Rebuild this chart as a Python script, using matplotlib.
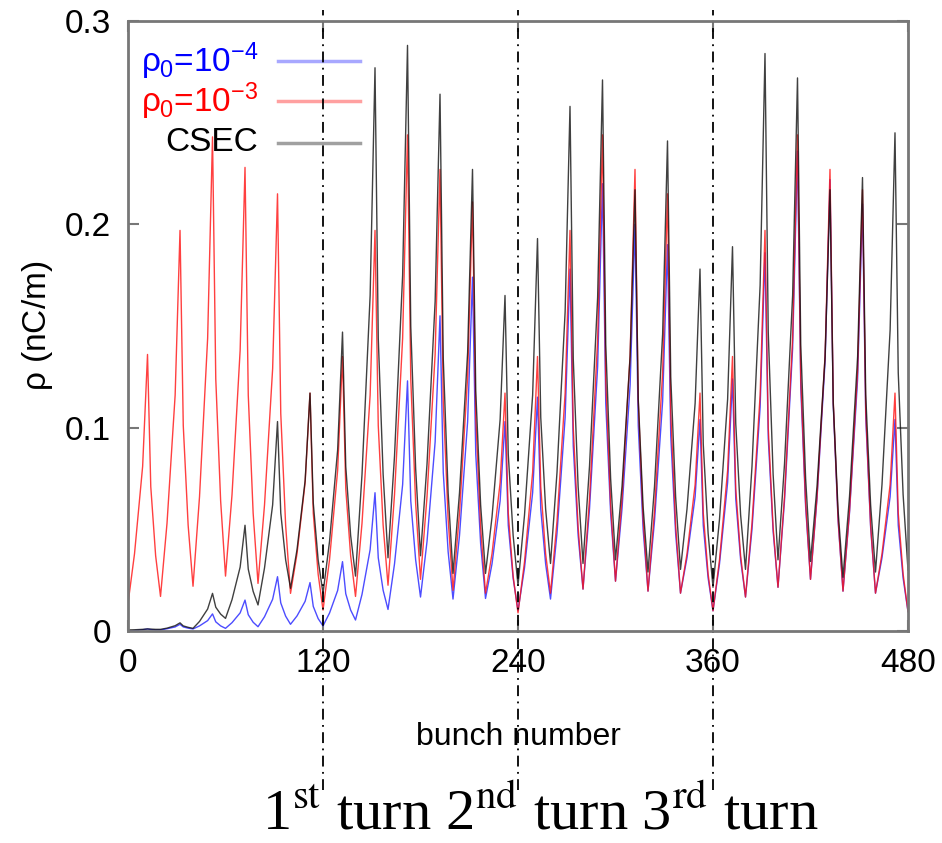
import matplotlib

matplotlib.use("Agg")
import matplotlib.pyplot as plt
from matplotlib.lines import Line2D

plt.rcParams["font.family"] = ["Liberation Sans", "DejaVu Sans"]
plt.rcParams["mathtext.fontset"] = "custom"
plt.rcParams["mathtext.rm"] = "Liberation Sans"
plt.rcParams["mathtext.it"] = "Liberation Sans"
plt.rcParams["mathtext.bf"] = "Liberation Sans:bold"

# bunch trains: 20 bunches per period, 24 periods (4 turns of 120 bunches)
period_starts = list(range(0, 480, 20))
# sample offsets inside a period: trough, rise, rise, peak, decay, decay
offsets = [0, 4, 9, 12, 14, 17]
last_bunch = 480

# values read per period: [trough, rise, rise, peak, decay, decay]
rho_1e4 = [
    [0.0, 0.0002, 0.0006, 0.001, 0.0007, 0.0005],
    [0.0005, 0.0011, 0.002, 0.0033, 0.0020, 0.0014],
    [0.001, 0.0025, 0.0051, 0.0084, 0.0045, 0.0025],
    [0.0013, 0.0041, 0.0089, 0.0152, 0.0080, 0.0043],
    [0.0021, 0.0070, 0.0156, 0.0267, 0.0138, 0.0073],
    [0.0033, 0.0074, 0.0146, 0.0238, 0.0121, 0.0061],
    [0.0025, 0.0088, 0.0199, 0.0341, 0.0183, 0.0103],
    [0.0054, 0.018, 0.040, 0.068, 0.036, 0.020],
    [0.0106, 0.033, 0.072, 0.123, 0.064, 0.035],
    [0.0167, 0.044, 0.093, 0.155, 0.078, 0.039],
    [0.0157, 0.047, 0.103, 0.174, 0.087, 0.043],
    [0.016, 0.033, 0.064, 0.103, 0.052, 0.026],
    [0.0099, 0.031, 0.068, 0.115, 0.060, 0.033],
    [0.0157, 0.048, 0.105, 0.178, 0.091, 0.047],
    [0.0206, 0.060, 0.130, 0.220, 0.112, 0.058],
    [0.0245, 0.060, 0.121, 0.200, 0.101, 0.050],
    [0.0196, 0.054, 0.113, 0.190, 0.096, 0.048],
    [0.0186, 0.036, 0.066, 0.104, 0.052, 0.026],
    [0.0099, 0.033, 0.073, 0.124, 0.065, 0.035],
    [0.0167, 0.050, 0.110, 0.186, 0.095, 0.049],
    [0.0215, 0.064, 0.139, 0.236, 0.120, 0.061],
    [0.0254, 0.065, 0.133, 0.222, 0.111, 0.054],
    [0.0196, 0.058, 0.124, 0.210, 0.105, 0.051],
    [0.0186, 0.036, 0.066, 0.104, 0.052, 0.026],
]
rho_1e4_end = 0.0095

rho_1e3 = [
    [0.0135, 0.038, 0.081, 0.136, 0.071, 0.037],
    [0.017, 0.053, 0.116, 0.197, 0.101, 0.052],
    [0.022, 0.066, 0.144, 0.243, 0.124, 0.064],
    [0.027, 0.067, 0.138, 0.228, 0.116, 0.058],
    [0.0234, 0.062, 0.129, 0.215, 0.107, 0.052],
    [0.0185, 0.038, 0.073, 0.117, 0.058, 0.028],
    [0.0103, 0.035, 0.079, 0.135, 0.070, 0.037],
    [0.017, 0.053, 0.116, 0.197, 0.101, 0.052],
    [0.0225, 0.067, 0.144, 0.244, 0.124, 0.063],
    [0.0254, 0.066, 0.136, 0.227, 0.113, 0.055],
    [0.020, 0.058, 0.125, 0.211, 0.105, 0.051],
    [0.0186, 0.038, 0.073, 0.117, 0.058, 0.027],
    [0.0089, 0.034, 0.078, 0.135, 0.071, 0.038],
    [0.0186, 0.054, 0.117, 0.197, 0.100, 0.051],
    [0.0206, 0.065, 0.143, 0.244, 0.123, 0.062],
    [0.0245, 0.065, 0.136, 0.227, 0.113, 0.055],
    [0.0196, 0.059, 0.127, 0.215, 0.107, 0.052],
    [0.0186, 0.038, 0.072, 0.117, 0.058, 0.028],
    [0.0099, 0.035, 0.079, 0.135, 0.070, 0.037],
    [0.0167, 0.053, 0.116, 0.197, 0.100, 0.051],
    [0.0215, 0.066, 0.144, 0.244, 0.124, 0.063],
    [0.0254, 0.066, 0.136, 0.227, 0.113, 0.055],
    [0.0196, 0.059, 0.128, 0.217, 0.108, 0.052],
    [0.0186, 0.038, 0.072, 0.117, 0.058, 0.028],
]
rho_1e3_end = 0.0095

csec = [
    [0.0005, 0.0006, 0.0008, 0.001, 0.0009, 0.0008],
    [0.0008, 0.0014, 0.0026, 0.004, 0.0025, 0.0018],
    [0.0013, 0.0047, 0.0108, 0.0185, 0.0117, 0.0083],
    [0.0062, 0.0154, 0.0314, 0.052, 0.0304, 0.0195],
    [0.0128, 0.031, 0.062, 0.103, 0.058, 0.035],
    [0.021, 0.040, 0.074, 0.117, 0.063, 0.035],
    [0.0185, 0.044, 0.089, 0.147, 0.081, 0.047],
    [0.027, 0.077, 0.165, 0.277, 0.144, 0.077],
    [0.036, 0.086, 0.175, 0.288, 0.150, 0.080],
    [0.037, 0.082, 0.162, 0.264, 0.134, 0.068],
    [0.0283, 0.068, 0.137, 0.227, 0.118, 0.062],
    [0.0283, 0.056, 0.104, 0.165, 0.087, 0.047],
    [0.0225, 0.057, 0.116, 0.193, 0.105, 0.060],
    [0.0332, 0.078, 0.157, 0.258, 0.134, 0.071],
    [0.0332, 0.081, 0.164, 0.271, 0.141, 0.075],
    [0.035, 0.071, 0.135, 0.217, 0.114, 0.061],
    [0.029, 0.071, 0.146, 0.241, 0.125, 0.066],
    [0.0303, 0.060, 0.112, 0.178, 0.092, 0.048],
    [0.0215, 0.055, 0.114, 0.189, 0.102, 0.057],
    [0.0303, 0.081, 0.170, 0.284, 0.147, 0.077],
    [0.035, 0.082, 0.165, 0.272, 0.141, 0.075],
    [0.0342, 0.071, 0.135, 0.217, 0.112, 0.059],
    [0.0264, 0.066, 0.135, 0.223, 0.116, 0.062],
    [0.029, 0.072, 0.148, 0.245, 0.127, 0.067],
]
csec_end = 0.030

turn_marks = [120, 240, 360]
turn_labels = r"1$^{\mathrm{st}}$ turn 2$^{\mathrm{nd}}$ turn 3$^{\mathrm{rd}}$ turn"
series_labels = [r"$\rho_0$=10$^{-4}$", r"$\rho_0$=10$^{-3}$", "CSEC"]


def flatten(rows, end):
    xs = [s + o for s in period_starts for o in offsets] + [last_bunch]
    ys = [v for row in rows for v in row] + [end]
    return xs, ys


fig = plt.figure(figsize=(9.42, 8.43), dpi=100)
ax = fig.add_axes([0.1359, 0.2515, 0.828, 0.7236])

# (rows, last value, line colour, legend text colour, legend sample colour)
series = [
    (rho_1e4, rho_1e4_end, "#2020ff", "#0000ff", "#a8a8ff"),
    (rho_1e3, rho_1e3_end, "#ff1010", "#ff0000", "#ffa0a0"),
    (csec, csec_end, "#101010", "#000000", "#a0a0a0"),
]
for rows, end, color, _, _ in series:
    xs, ys = flatten(rows, end)
    ax.plot(xs, ys, color=color, lw=1.0, alpha=0.8)

ax.set_xlim(0, 480)
ax.set_ylim(0, 0.3)
ax.set_xticks([0, 120, 240, 360, 480])
ax.set_yticks([0, 0.1, 0.2, 0.3])
ax.set_yticklabels(["0", "0.1", "0.2", "0.3"])
ax.tick_params(direction="in", length=8, width=1.5, color="#777777",
               labelsize=24, pad=12, top=True, right=True)
for sp in ax.spines.values():
    sp.set_color("#777777")
    sp.set_linewidth(2)

ax.set_xlabel("bunch number", fontsize=23)
ax.xaxis.set_label_coords(0.5, -0.15)
ax.set_ylabel(r"$\rho$ (nC/m)", fontsize=24)
ax.yaxis.set_label_coords(-0.094, 0.5)

# legend, gnuplot style: text right-justified, sample line to the right
rows_y = [0.934, 0.869, 0.800]
for (_, _, _, txt_color, pale), label, yy in zip(series, series_labels, rows_y):
    ax.text(0.167, yy, label, transform=ax.transAxes, ha="right", va="center",
            fontsize=24, color=txt_color)
    ax.add_line(Line2D([0.192, 0.297], [yy, yy], transform=ax.transAxes,
                       color=pale, lw=2.5))

# turn boundaries
for xm in turn_marks:
    ax.plot([xm, xm], [-0.26, 1.018], transform=ax.get_xaxis_transform(),
            clip_on=False, color="black", lw=1.3, ls=(0, (6, 3, 1, 3)))

fig.text(0.573, 0.002, turn_labels, ha="center", va="bottom",
         fontsize=42, family="Liberation Serif", math_fontfamily="stix")

fig.savefig("out.png", dpi=100)
